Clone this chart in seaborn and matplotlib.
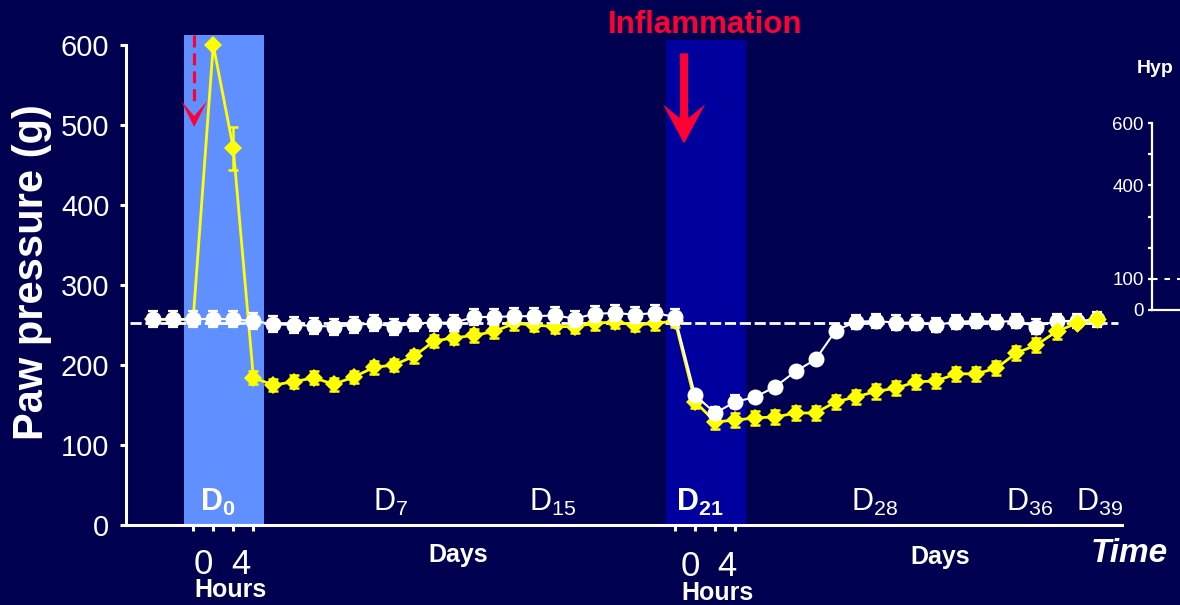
import matplotlib
matplotlib.use("Agg")
import matplotlib.pyplot as plt
import matplotlib.transforms as mtransforms
from matplotlib.patches import Polygon
from matplotlib.lines import Line2D
import pandas as pd
import seaborn as sns

# ---------------- data ----------------
timepoint = list(range(48))
control = [257, 257, 257, 258, 257, 255, 251, 250, 249, 248, 250, 252, 248, 252, 253, 253,
           260, 260, 261, 261, 262, 258, 264, 265, 263, 265, 260,
           162, 140, 154, 160, 173, 192, 207, 243, 254, 255, 253, 253, 250, 254, 255, 254,
           255, 248, 255, 255, 257]
control_err = [10] * 27 + [6, 8, 8, 0, 0, 0, 0, 0] + [9] * 13
treated = [257, 257, 257, 600, 471, 184, 175, 179, 184, 176, 185, 197, 200, 211, 230, 234,
           237, 242, 252, 250, 248, 248, 252, 254, 250, 252, 255,
           154, 129, 131, 134, 135, 140, 140, 154, 160, 167, 171, 179, 180, 189, 189, 196,
           215, 225, 242, 252, 257]
treated_err = [0, 0, 0, 0, 27] + [8] * 23 + [9] * 18 + [0, 0]
baseline = 252
y_ticks = [0, 100, 200, 300, 400, 500, 600]
day_labels = ["0", "7", "15", "21", "28", "36", "39"]
day_label_pos = [3.2, 11.85, 19.9, 27.25, 35.95, 43.65, 47.15]
day_label_bold = [True, False, False, True, False, False, False]
hour_points = [2, 3, 4, 5, 26, 27, 28, 29]
hour_labels = ["0", "4", "0", "4"]
hour_label_pos = [2.5, 4.4, 26.75, 28.6]
band_d0 = (1.55, 5.55)
band_d21 = (25.55, 29.55)
inset_major = [0, 100, 400, 600]
inset_minor = [200, 300, 500]

df = pd.DataFrame({"t": timepoint, "control": control, "control_err": control_err,
                   "treated": treated, "treated_err": treated_err})
late = df[df["t"] >= 45]

# ---------------- style ----------------
BG = "#000050"
WHITE = "#FFFFFF"
YELLOW = "#FFFF00"
RED = "#FF0033"
BAND1 = "#6090FF"
BAND2 = "#00009E"

sns.set_theme(style="white")
plt.rcParams["font.family"] = ["Liberation Sans", "DejaVu Sans"]
plt.rcParams["mathtext.fontset"] = "custom"
plt.rcParams["mathtext.rm"] = "Liberation Sans"
plt.rcParams["mathtext.bf"] = "Liberation Sans:bold"
plt.rcParams["mathtext.it"] = "Liberation Sans:italic"
plt.rcParams["lines.scale_dashes"] = False

W, H = 1180, 605
fig = plt.figure(figsize=(W / 100, H / 100), dpi=100, facecolor=BG)

ax_l, ax_r, ax_t, ax_b = 126, 1122, 35, 525
ax = fig.add_axes([ax_l / W, 1 - ax_b / H, (ax_r - ax_l) / W, (ax_b - ax_t) / H])
ax.set_facecolor(BG)

x0 = -1.345
x1 = 48.26
ax.set_xlim(x0, x1)
ax.set_ylim(0, 612.5)

# bands
ax.axvspan(*band_d0, ymin=0, ymax=1, color=BAND1, lw=0, zorder=0)
ax.axvspan(*band_d21, ymin=0, ymax=606 / 612.5, color=BAND2, lw=0, zorder=0)

# baseline dashed
ax.axhline(baseline, xmin=0.004, xmax=0.996, color=WHITE, lw=2, dashes=(8, 2.7), zorder=2)

# treated (yellow)
ax.errorbar(df["t"], df["treated"], yerr=df["treated_err"], fmt="none", ecolor=YELLOW,
            elinewidth=1.8, capsize=3.4, capthick=1.8, zorder=3)
sns.lineplot(data=df, x="t", y="treated", ax=ax, color=YELLOW, lw=2.0, marker="D",
             markersize=9.5, markeredgewidth=0, zorder=3, errorbar=None)

# control (white)
ax.errorbar(df["t"], df["control"], yerr=df["control_err"], fmt="none", ecolor=WHITE,
            elinewidth=1.6, capsize=3.4, capthick=1.6, zorder=4)
sns.lineplot(data=df, x="t", y="control", ax=ax, color=WHITE, lw=1.5, marker="o",
             markersize=11.5, markeredgewidth=0, zorder=4, errorbar=None)

# last yellow diamonds sit in front of the white circles
sns.scatterplot(data=late, x="t", y="treated", ax=ax, color=YELLOW, marker="D", s=90,
                linewidth=0, zorder=5, legend=False)

# axes styling
for s in ["top", "right"]:
    ax.spines[s].set_visible(False)
for s in ["left", "bottom"]:
    ax.spines[s].set_color(WHITE)
    ax.spines[s].set_linewidth(2.2)
ax.spines["left"].set_bounds(0, 600)
ax.set_yticks(y_ticks)
ax.set_yticklabels([str(v) for v in y_ticks])
ax.tick_params(axis="y", colors=WHITE, labelsize=21, length=4, width=2.2, pad=8,
               direction="out", left=True)
ax.set_xticks(hour_points)
ax.set_xticklabels([""] * len(hour_points))
ax.tick_params(axis="x", colors=WHITE, length=4.5, width=2.2, direction="out", bottom=True)
ax.set_xlabel("")
ax.set_ylabel("Paw pressure (g)", color=WHITE, fontsize=30, fontweight="bold")
ax.yaxis.set_label_coords(-0.0743, 0.516)

# day labels inside axes
for lab, pos, bold in zip(day_labels, day_label_pos, day_label_bold):
    if bold:
        s = r"$\mathbf{D}_{\mathbf{%s}}$" % lab
    else:
        s = r"$\mathrm{D}_{\mathrm{%s}}$" % lab
    ax.text(pos, 17.5, s, color=WHITE, fontsize=22, ha="center", va="baseline", zorder=6)

# text below axis
xt = ax.get_xaxis_transform()


def yf(px):
    return (ax_b - px) / (ax_b - ax_t)


for lab, pos, py in zip(hour_labels, hour_label_pos, [564, 564, 567, 567]):
    ax.text(pos, yf(py), lab, transform=xt, color=WHITE, fontsize=25, ha="center",
            va="center", clip_on=False)
for pos, py in [(3.85, 590), (28.1, 593)]:
    ax.text(pos, yf(py), "Hours", transform=xt, color=WHITE, fontsize=18,
            fontweight="bold", ha="center", va="center", clip_on=False)
for pos, py in [(15.2, 555), (39.2, 557)]:
    ax.text(pos, yf(py), "Days", transform=xt, color=WHITE, fontsize=18,
            fontweight="bold", ha="center", va="center", clip_on=False)
fig.text(1091 / W, 1 - 553 / H, "Time", color=WHITE, fontsize=24, fontweight="bold",
         fontstyle="italic", ha="left", va="center")

# Inflammation title
fig.text(705 / W, 1 - 33.3 / H, "Inflammation", color=RED, fontsize=22.5,
         fontweight="bold", ha="center", va="baseline")

# arrows (shapes in pixel offsets from tip)
def tip_trans(xd, yd):
    return fig.dpi_scale_trans + mtransforms.ScaledTranslation(xd, yd, ax.transData)


t1 = tip_trans(26.45, 477)
solid = [(0, 0), (21, 39), (4, 25), (4, 90), (-4, 90), (-4, 25), (-21, 39)]
ax.add_patch(Polygon([(a / 100, b / 100) for a, b in solid], closed=True, facecolor=RED,
                     edgecolor="none", transform=t1, zorder=7, clip_on=False))

t2 = tip_trans(2.05, 497.5)
head = [(0, 0), (13, 26), (0, 11), (-13, 26)]
ax.add_patch(Polygon([(a / 100, b / 100) for a, b in head], closed=True, facecolor=RED,
                     edgecolor="none", transform=t2, zorder=7, clip_on=False))
ax.add_line(Line2D([0, 0], [0.92, 0.22], transform=t2, color=RED, lw=2.3,
                   dashes=(8.6, 4.3), zorder=7, clip_on=False))

# inset (partially visible)
ia_l, ia_t, ia_b = 1152, 123, 310
iax = fig.add_axes([ia_l / W, 1 - ia_b / H, 0.2, (ia_b - ia_t) / H])
iax.set_facecolor(BG)
iax.set_ylim(0, 600)
iax.set_xlim(0, 1)
for s in ["top", "right"]:
    iax.spines[s].set_visible(False)
for s in ["left", "bottom"]:
    iax.spines[s].set_color(WHITE)
    iax.spines[s].set_linewidth(1.6)
iax.set_yticks(inset_major)
iax.set_yticklabels([str(v) for v in inset_major])
iax.set_yticks(inset_minor, minor=True)
iax.set_xticks([])
iax.tick_params(axis="y", which="both", colors=WHITE, labelsize=13.5, length=3,
                width=1.6, pad=3, direction="out", left=True)
iax.axhline(100, color=WHITE, lw=1.5, dashes=(4, 5))
fig.text(1137 / W, 1 - 73.3 / H, "Hyp", color=WHITE, fontsize=14, fontweight="bold",
         ha="left", va="baseline")

fig.savefig("out.png", dpi=100, facecolor=BG)
